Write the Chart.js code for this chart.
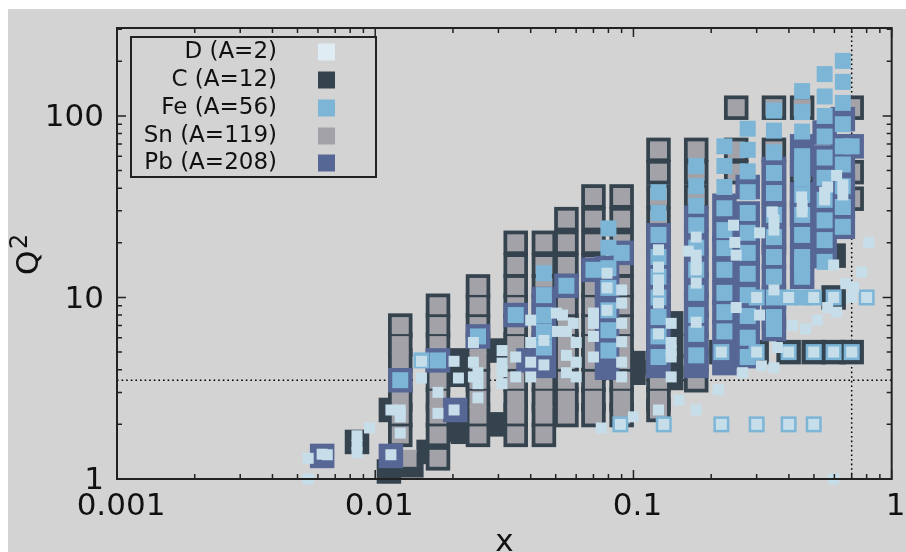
<!DOCTYPE html>
<html>
<head>
<meta charset="utf-8">
<title>x vs Q2 coverage</title>
<style>
  html, body { margin: 0; padding: 0; background: #fff; overflow: hidden; }
  canvas { position: absolute; left: 8px; top: 9px; background: #d3d3d3; }
</style>
</head>
<body>
<canvas id="coverageChart" width="901" height="543"></canvas>
<script src="https://cdn.jsdelivr.net/npm/chart.js@4"></script>
<script>
const seriesNames = ["D (A=2)", "C (A=12)", "Fe (A=56)", "Sn (A=119)", "Pb (A=208)"];

const xTicks = [0.001, 0.01, 0.1, 1];
const yTicks = [1, 10, 100];
const xMinorTicks = [0.002, 0.003, 0.004, 0.005, 0.006, 0.007, 0.008, 0.009, 0.02, 0.03, 0.04, 0.05, 0.06, 0.07, 0.08, 0.09, 0.2, 0.3, 0.4, 0.5, 0.6, 0.7, 0.8, 0.9];
const yMinorTicks = [2, 3, 4, 5, 6, 7, 8, 9, 20, 30, 40, 50, 60, 70, 80, 90, 200, 300];

// Kinematic cuts (dotted lines)
const q2Cut = 3.5;
const xCut = 0.7;

// Carbon: [x, [Q2 values]]
const carbonColumns = [
  [0.0125, [7, 5.5, 4.5, 3.5, 2.75, 2.25, 1.75]],
  [0.0175, [9, 7, 5.5, 4.5, 3.5, 2.75, 2.25, 1.75, 1.3]],
  [0.025, [11.5, 9, 7, 5.5, 4.5, 3.5, 2.75, 2.25, 1.75]],
  [0.035, [20, 15, 11.5, 9, 7, 5.5, 4.5, 3.5, 2.75, 2.25, 1.75]],
  [0.045, [20, 15, 11.5, 9, 7, 5.5, 4.5, 3.5, 2.75, 2.25, 1.75]],
  [0.055, [27, 20, 15, 11.5, 9, 7, 5.5, 4.5, 3.5, 2.75, 2.25]],
  [0.07, [36, 27, 20, 15, 11.5, 9, 7, 5.5, 4.5, 3.5, 2.75, 2.25]],
  [0.09, [36, 27, 20, 15, 11.5, 9, 7, 5.5, 4.5, 3.5, 2.75, 2.25]],
  [0.125, [65, 49, 36, 27, 20, 15, 11.5, 9, 7, 5.5, 4.5, 3.5, 2.75, 2.4]],
  [0.175, [65, 49, 36, 27, 20, 15, 11.5, 9, 7, 5.5, 4.5, 3.5]],
  [0.25, [111, 65, 49]],
  [0.35, [111, 65, 49, 36, 27, 20]],
  [0.45, [111, 49, 36, 29]],
  [0.7, [111, 49, 35]],
  [0.219, [5]],
  [0.3, [5]],
  [0.399, [5]],
  [0.499, [5]],
  [0.596, [17, 10, 5]],
  [0.7, [5]],
  [0.0085, [1.6]],
  [0.0115, [2.4]],
  [0.0113, [1.1]],
  [0.0138, [1.19]],
  [0.0161, [1.41]],
  [0.0206, [1.86]],
  [0.0292, [2]],
  [0.0297, [5.1]],
  [0.021, [4.5, 3.75]],
  [0.0213, [2.25]],
  [0.0219, [1.82]],
  [0.1, [4.35, 3.85]],
  [0.14, [7.2, 5.4, 4.2, 3.6]]
];

const tinColumns = [
  [0.0125, [7, 5.5, 4.5, 3.5, 2.75, 2.25, 1.75]],
  [0.0134, [1.3]],
  [0.0175, [9, 7, 5.5, 4.5, 3.5, 2.75, 2.25, 1.75, 1.3]],
  [0.025, [11.5, 9, 7, 5.5, 4.5, 3.5, 2.75, 2.25, 1.75]],
  [0.035, [20, 15, 11.5, 9, 7, 5.5, 4.5, 3.5, 2.75, 2.25, 1.75]],
  [0.045, [20, 15, 11.5, 9, 7, 5.5, 4.5, 3.5, 2.75, 2.25, 1.75]],
  [0.055, [27, 20, 15, 11.5, 9, 7, 5.5, 4.5, 3.5, 2.75, 2.25]],
  [0.07, [36, 27, 20, 15, 11.5, 9, 7, 5.5, 4.5, 3.5, 2.75, 2.25]],
  [0.09, [36, 27, 20, 15, 11.5, 9, 7, 5.5, 4.5, 3.5, 2.75, 2.25]],
  [0.125, [65, 49, 36, 27, 20, 15, 11.5, 9, 7, 5.5, 4.5, 3.5, 2.75, 2.4]],
  [0.175, [65, 49, 36, 27, 20, 15, 11.5, 9, 7, 5.5, 4.5, 3.5]],
  [0.25, [111, 65, 49]],
  [0.35, [111, 65, 49, 36, 27, 20]],
  [0.45, [111, 49, 36, 29]],
  [0.7, [111, 49, 35]]
];

const leadColumns = [
  [0.00623, [1.34]],
  [0.0115, [1.34]],
  [0.0125, [3.5]],
  [0.0175, [4.5]],
  [0.0204, [2.4]],
  [0.025, [6.1]],
  [0.035, [8]],
  [0.0392, [4.5]],
  [0.045, [9.8, 8, 6.5, 5.3, 4.2]],
  [0.055, [11.6]],
  [0.07, [14.2]],
  [0.079, [14.5, 11.3, 8.5, 6.6, 5.1, 4.1]],
  [0.09, [17.6]],
  [0.125, [22, 16.7, 13, 10, 7.8, 6.1, 4.7, 4.2]],
  [0.175, [27.5, 20.7, 15.7, 11.9, 9.3, 7.3, 5.6, 4.7, 4.2]],
  [0.225, [32, 23.5, 18.7, 14.2, 10.6, 8.3, 6.5, 5, 4.35]],
  [0.277, [40.6, 29, 22.7, 17.6, 13.5, 10.3, 7.9, 6, 4.75]],
  [0.35, [51, 37.6, 28.5, 21.5, 16.7, 13, 10, 7.8, 6.7]],
  [0.45, [68, 54, 37, 28.5, 22, 16.7, 13]],
  [0.55, [81, 59, 45.6, 34.5, 26.6, 20.7, 16.9]],
  [0.647, [96, 68, 53.7, 41, 31.5, 24.5]],
  [0.7, [68]]
];

const ironColumns = [
  [0.0125, [3.5]],
  [0.0151, [4.5]],
  [0.0175, [4.5]],
  [0.025, [6.1]],
  [0.035, [8]],
  [0.045, [13.6, 10.3, 8, 6.5, 5.3]],
  [0.055, [11.6]],
  [0.07, [14.2]],
  [0.08, [24, 18.8, 14.5, 11.3, 8.5, 6.6, 5.1]],
  [0.09, [17.6]],
  [0.125, [38, 29.2, 22.1, 16.7, 13, 10, 7.8, 6.1, 4.7]],
  [0.175, [53, 41, 32, 25, 18.8, 14.2, 10.6, 8, 6.3, 4.8]],
  [0.225, [68, 53, 40.6, 31, 23.5, 18.7, 14.2, 10.6, 8.3, 6.5]],
  [0.277, [85, 65, 49.5, 38, 29.2, 22.7, 17.6, 13.5, 10.3, 7.9, 6, 4.7]],
  [0.35, [107, 83, 63, 48.5, 37.6, 28.5, 21.5, 16.7, 13, 10, 7.8, 6.7]],
  [0.45, [137, 105, 82, 60, 52, 45, 36.7, 28.5, 22.1, 16.7, 14.7, 13, 10]],
  [0.55, [170, 128, 100, 77, 59, 45.6, 34.5, 26.6, 20.7, 15.7]],
  [0.647, [201, 154, 118, 90, 68, 54, 41, 31.5, 24.5]],
  [0.7, [68, 5]],
  [0.219, [5, 2]],
  [0.3, [10, 5, 2]],
  [0.399, [10, 5, 2]],
  [0.499, [10, 5, 2]],
  [0.596, [10, 5]],
  [0.8, [10]],
  [0.089, [2]],
  [0.131, [2]]
];

const deuteriumColumns = [
  [0.0055, [1.3, 1]],
  [0.00623, [1.37]],
  [0.00652, [1.36]],
  [0.0085, [1.73, 1.54, 1.4]],
  [0.0095, [1.91]],
  [0.0115, [2.4, 1.36]],
  [0.0125, [2.4, 2.2, 1.79]],
  [0.0151, [4.45, 3.6]],
  [0.0175, [3, 2.3]],
  [0.0202, [4.45, 2.4]],
  [0.021, [3.6]],
  [0.024, [5.65, 4.4, 3.65]],
  [0.025, [3.85, 3.35, 2.8]],
  [0.031, [5.1, 4.35, 3.9, 3.35]],
  [0.035, [4.7, 3.65]],
  [0.04, [7.5, 5.65, 4.4, 3.65]],
  [0.045, [5.8, 4.25]],
  [0.0503, [8.2]],
  [0.0508, [6.5]],
  [0.0531, [8]],
  [0.055, [6.5, 4.8, 3.85]],
  [0.0585, [7.2]],
  [0.06, [5.65, 4.4, 3.65]],
  [0.07, [8.2, 7.2, 6.1, 4.7]],
  [0.075, [1.91]],
  [0.079, [13.6, 11.3, 8.5]],
  [0.089, [2]],
  [0.09, [11, 9.3, 7.2, 5.7, 4.4, 3.65]],
  [0.1, [2.2]],
  [0.125, [18.3, 14.7, 12.5, 11, 9.3, 6.3, 2.4]],
  [0.131, [2]],
  [0.14, [7.2, 5.65, 5.1, 4.7, 3.65]],
  [0.15, [2.72]],
  [0.163, [18]],
  [0.175, [21.5, 17.1, 15.1, 14.2, 12, 7.3, 2.4]],
  [0.213, [3.1]],
  [0.219, [5, 2]],
  [0.244, [25]],
  [0.247, [20.1]],
  [0.25, [17.1, 8.8]],
  [0.2645, [3.85]],
  [0.3, [10, 5, 2]],
  [0.308, [22.7, 8]],
  [0.313, [4.2]],
  [0.345, [29.6]],
  [0.35, [26.7, 23.5, 11, 4.1]],
  [0.361, [5.3]],
  [0.399, [10, 5, 2]],
  [0.413, [7]],
  [0.448, [35.8]],
  [0.45, [32, 29.6]],
  [0.4645, [6.7]],
  [0.499, [10, 5, 2]],
  [0.516, [7.5]],
  [0.55, [38, 34.5]],
  [0.565, [40.6, 8.8]],
  [0.596, [15.1, 10, 5, 1]],
  [0.612, [47, 8.3]],
  [0.647, [41.7, 36.7]],
  [0.664, [11.9]],
  [0.7, [10, 5]],
  [0.713, [11.4]],
  [0.765, [13.8]],
  [0.8, [10]],
  [0.815, [20.1]]
];

const legendColors = ["#dfecf3", "#34434e", "#7db5d7", "#a3a2a8", "#566795"];
const deuteriumColor = "#c6deea";
const textColor = "#111";
const frameColor = "#222";

function toPoints(columns) {
  const points = [];
  columns.forEach(col => {
    col[1].forEach(q2 => points.push({ x: col[0], y: q2 }));
  });
  return points;
}

// side of a 'rect' point is sqrt(2) * radius
function sideToRadius(side) {
  return side / Math.SQRT2;
}

function squareSeries(name, columns, color, side, order) {
  return {
    label: name,
    data: toPoints(columns),
    backgroundColor: color,
    borderWidth: 0,
    pointStyle: "rect",
    pointRadius: sideToRadius(side),
    pointBorderWidth: 0,
    clip: false,
    order: order
  };
}

function cutLine(points) {
  return {
    data: points,
    showLine: true,
    borderColor: "#000",
    borderWidth: 1.5,
    borderDash: [1.6, 3],
    pointRadius: 0,
    order: 10
  };
}

// Inward ticks on all four sides, frame, axis titles and legend
const framePlugin = {
  id: "framePlugin",
  afterDatasetsDraw(chart) {
    const { ctx, chartArea: area, scales } = chart;
    ctx.save();
    ctx.strokeStyle = frameColor;
    ctx.lineWidth = 2;
    ctx.strokeRect(area.left, area.top, area.right - area.left, area.bottom - area.top);

    function xTick(value, len) {
      const px = scales.x.getPixelForValue(value);
      ctx.beginPath();
      ctx.moveTo(px, area.bottom);
      ctx.lineTo(px, area.bottom - len);
      ctx.moveTo(px, area.top);
      ctx.lineTo(px, area.top + len);
      ctx.stroke();
    }
    function yTick(value, len) {
      const py = scales.y.getPixelForValue(value);
      ctx.beginPath();
      ctx.moveTo(area.left, py);
      ctx.lineTo(area.left + len, py);
      ctx.moveTo(area.right, py);
      ctx.lineTo(area.right - len, py);
      ctx.stroke();
    }
    ctx.lineWidth = 1.5;
    xMinorTicks.forEach(v => xTick(v, 5));
    yMinorTicks.forEach(v => yTick(v, 5));
    xTicks.forEach(v => xTick(v, 9));
    yTicks.forEach(v => yTick(v, 9));

    // axis titles
    ctx.fillStyle = textColor;
    ctx.textBaseline = "alphabetic";
    ctx.textAlign = "center";
    ctx.font = '31px "DejaVu Sans"';
    ctx.fillText("x", (area.left + area.right) / 2, 542);
    ctx.save();
    ctx.translate(30, 266);
    ctx.rotate(-Math.PI / 2);
    ctx.textAlign = "left";
    ctx.fillText("Q", 0, 0);
    ctx.restore();
    ctx.save();
    ctx.translate(19, 240);
    ctx.rotate(-Math.PI / 2);
    ctx.textAlign = "left";
    ctx.font = '24px "DejaVu Sans"';
    ctx.fillText("2", 0, 0);
    ctx.restore();

    // legend
    const rowY = [43, 71, 99, 127, 154];
    ctx.fillStyle = "#d3d3d3";
    ctx.fillRect(123, 28, 245, 140);
    ctx.strokeStyle = frameColor;
    ctx.lineWidth = 2;
    ctx.strokeRect(123, 28, 245, 140);
    ctx.font = '23px "DejaVu Sans"';
    ctx.textAlign = "right";
    ctx.textBaseline = "middle";
    seriesNames.forEach((name, i) => {
      ctx.fillStyle = textColor;
      ctx.fillText(name, 269, rowY[i]);
      ctx.fillStyle = legendColors[i];
      ctx.fillRect(310, rowY[i] - 8.5, 17, 17);
    });
    ctx.restore();
  }
};

new Chart(document.getElementById("coverageChart"), {
  type: "scatter",
  data: {
    datasets: [
      squareSeries(seriesNames[0], deuteriumColumns, deuteriumColor, 11, 0),
      squareSeries(seriesNames[2], ironColumns, legendColors[2], 16, 1),
      squareSeries(seriesNames[4], leadColumns, legendColors[4], 24.5, 2),
      squareSeries(seriesNames[3], tinColumns, legendColors[3], 17, 3),
      squareSeries(seriesNames[1], carbonColumns, legendColors[1], 24.5, 4),
      cutLine([{ x: xTicks[0], y: q2Cut }, { x: xTicks[3], y: q2Cut }]),
      cutLine([{ x: xCut, y: yTicks[0] }, { x: xCut, y: 305 }])
    ]
  },
  options: {
    responsive: false,
    animation: false,
    layout: { padding: { top: 19, right: 11, left: 0, bottom: 0 } },
    plugins: { legend: { display: false }, tooltip: { enabled: false } },
    scales: {
      x: {
        type: "logarithmic",
        min: 0.001,
        max: 1,
        grid: { display: false, drawTicks: false },
        border: { display: false },
        afterBuildTicks: scale => { scale.ticks = xTicks.map(v => ({ value: v })); },
        afterFit: scale => {
          scale.height = 73;
          scale.paddingLeft = 0;
          scale.paddingRight = 0;
        },
        ticks: {
          autoSkip: false,
          maxRotation: 0,
          padding: 9,
          labelOffset: 4,
          color: textColor,
          font: { family: "DejaVu Sans", size: 31 },
          callback: value => String(value)
        }
      },
      y: {
        type: "logarithmic",
        min: 1,
        max: 305,
        grid: { display: false, drawTicks: false },
        border: { display: false },
        afterBuildTicks: scale => { scale.ticks = yTicks.map(v => ({ value: v })); },
        afterFit: scale => {
          scale.width = 109;
          scale.paddingTop = 0;
          scale.paddingBottom = 0;
        },
        ticks: {
          autoSkip: false,
          padding: 13,
          labelOffset: 2,
          color: textColor,
          font: { family: "DejaVu Sans", size: 31 },
          callback: value => String(value)
        }
      }
    }
  },
  plugins: [framePlugin]
});
</script>
</body>
</html>
